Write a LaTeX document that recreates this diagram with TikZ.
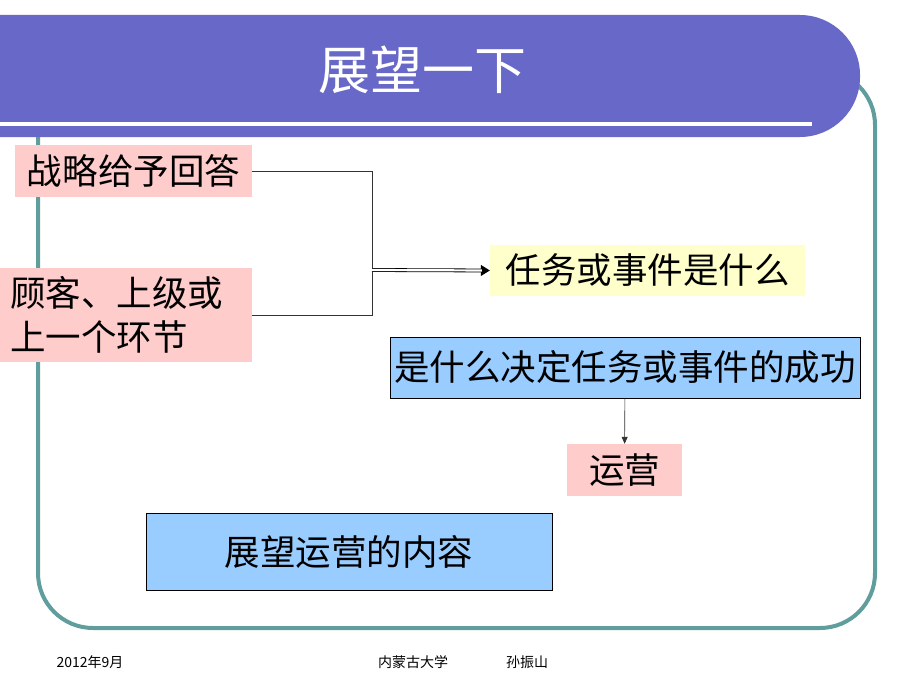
\documentclass[tikz,border=0pt]{standalone}
\usepackage{fontspec}
\newfontfamily\cjk{Noto Sans CJK SC}
\usetikzlibrary{positioning}
\usetikzlibrary{arrows.meta}
\definecolor{barblue}{RGB}{104,104,200}
\definecolor{frameteal}{RGB}{96,158,158}
\definecolor{pinkbox}{RGB}{255,204,204}
\definecolor{yellowbox}{RGB}{255,255,204}
\definecolor{bluebox}{RGB}{153,204,255}

\begin{document}
\begin{tikzpicture}[x=1pt, y=-1pt,
			txt/.style={font=\cjk\fontsize{35.5}{44}\selectfont, inner sep=0pt},
			pinkbox/.style={txt, fill=pinkbox},
			yellowbox/.style={txt, fill=yellowbox},
			bluebox/.style={txt, fill=bluebox, draw=black, line width=0.8pt},
			footer/.style={font=\cjk\fontsize{14}{16}\selectfont, inner sep=0pt},
			arrow/.style={-{Triangle[length=7pt, width=6pt]}, line width=0.6pt, draw=black!80}
			]
			\useasboundingbox (0,0) rectangle (920,690);
			
			% Frame and title bar
			\draw[frameteal, line width=4pt, rounded corners=55] (38,70) rectangle (875,628);
			\fill[barblue] (0,15) [rounded corners=60] -- (860,15) -- (860,137) [sharp corners] -- (0,137) -- cycle;
			\draw[white, line width=3pt] (0,124) -- (812,124);
			\node[font=\cjk\fontsize{52}{60}\selectfont, text=white] (title) at (422,70) {展望一下};
			
			% Boxes
			\node[pinkbox, minimum width=237pt, minimum height=52pt, text width=213pt, align=left] (strat) at (133.5,171) {战略给予回答};
			\node[pinkbox, minimum width=252pt, minimum height=94pt, text width=232pt, align=left] (cust) at (126,315) {顾客、上级或\\上一个环节};
			\node[yellowbox, minimum width=315pt, minimum height=51pt] (task) at (647.5,270.5) {任务或事件是什么};
			\node[bluebox, minimum width=470pt, minimum height=61pt] (key) at (625,367.5) {是什么决定任务或事件的成功};
			\node[pinkbox, minimum width=115pt, minimum height=52pt] (ops) at (624.5,470) {运营};
			\node[bluebox, minimum width=406pt, minimum height=77pt] (content) at (349,551.5) {展望运营的内容};
			
			% Connections
			\coordinate (join) at (372,270);
			\draw[line width=0.9pt, draw=black!80] (strat.east) -| (join);
			\draw[line width=0.9pt, draw=black!80] (cust.east) -| (join);
			\draw[line width=0.8pt, -{Triangle[length=9pt, width=11pt]}] (join) -- (task.west);
			\draw[double=white, double distance=2.2pt, line width=0.8pt, shorten >=8pt] (join) -- (task.west);
			\draw[arrow] (key) -- (ops);
			
			% Footer
			\node[footer] (date) at (90,662) {2012年9月};
			\node[footer] (univ) at (413,662) {内蒙古大学};
			\node[footer] (author) at (527,662) {孙振山};
		\end{tikzpicture}
\end{document}
